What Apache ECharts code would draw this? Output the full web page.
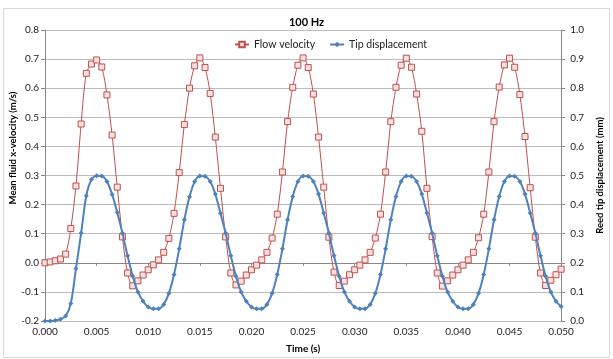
<!DOCTYPE html>
<html>
<head>
<meta charset="utf-8">
<script src="https://cdn.jsdelivr.net/npm/echarts@6/dist/echarts.min.js"></script>
<style>
  html, body { margin: 0; padding: 0; background: #fff; }
  #chart { width: 613px; height: 359px; }
</style>
</head>
<body>
<div id="chart"></div>
<script>
// sample step of the time series (s)
const timeStep = 0.0005

// mean fluid x-velocity (m/s), left axis
const flowVelocity = [
  0.000, 0.003, 0.007, 0.013, 0.030, 0.118, 0.264, 0.477, 0.651, 0.683,
  0.697, 0.673, 0.577, 0.439, 0.260, 0.089, -0.035, -0.079, -0.062, -0.042,
  -0.024, -0.007, 0.010, 0.036, 0.084, 0.170, 0.310, 0.475, 0.600, 0.677,
  0.704, 0.671, 0.582, 0.432, 0.256, 0.089, -0.035, -0.076, -0.063, -0.042,
  -0.024, -0.008, 0.010, 0.036, 0.085, 0.167, 0.312, 0.485, 0.603, 0.679,
  0.704, 0.671, 0.580, 0.432, 0.260, 0.088, -0.032, -0.078, -0.063, -0.041,
  -0.024, -0.008, 0.010, 0.036, 0.085, 0.167, 0.312, 0.485, 0.603, 0.679,
  0.703, 0.672, 0.580, 0.452, 0.256, 0.090, -0.035, -0.080, -0.062, -0.042,
  -0.024, -0.008, 0.010, 0.036, 0.086, 0.167, 0.312, 0.485, 0.604, 0.680,
  0.703, 0.672, 0.578, 0.434, 0.258, 0.088, -0.035, -0.078, -0.060, -0.041,
  -0.022
]

// reed tip displacement (mm), right axis
const tipDisplacement = [
  0.000, 0.000, 0.002, 0.006, 0.017, 0.060, 0.180, 0.302, 0.430, 0.486,
  0.499, 0.498, 0.479, 0.435, 0.373, 0.302, 0.224, 0.154, 0.100, 0.068,
  0.048, 0.042, 0.042, 0.057, 0.095, 0.160, 0.248, 0.348, 0.427, 0.479,
  0.498, 0.497, 0.479, 0.436, 0.370, 0.302, 0.224, 0.154, 0.100, 0.068,
  0.048, 0.042, 0.042, 0.057, 0.095, 0.160, 0.248, 0.348, 0.428, 0.479,
  0.498, 0.497, 0.479, 0.436, 0.371, 0.302, 0.224, 0.154, 0.100, 0.068,
  0.048, 0.042, 0.042, 0.057, 0.095, 0.160, 0.248, 0.348, 0.428, 0.479,
  0.498, 0.497, 0.479, 0.436, 0.371, 0.302, 0.224, 0.154, 0.100, 0.068,
  0.048, 0.042, 0.042, 0.057, 0.095, 0.160, 0.248, 0.348, 0.428, 0.479,
  0.498, 0.497, 0.479, 0.436, 0.371, 0.302, 0.224, 0.154, 0.100, 0.068,
  0.050
]

const seriesNames = ['Flow velocity', 'Tip displacement']

const font = 'Lato, "Open Sans", sans-serif'
const red = '#C0504D'
const blue = '#4F81BD'

const chart = echarts.init(document.getElementById('chart'))

function toPairs(values) {
  return values.map((v, i) => [+(i * timeStep).toFixed(4), v])
}

const option = {
  animation: false,
  textStyle: { fontFamily: font },
  graphic: [{
    type: 'rect',
    shape: { x: 3.5, y: 8.5, width: 606, height: 349 },
    style: { fill: 'none', stroke: '#d9d9d9', lineWidth: 1 },
    silent: true
  }, {
    // left axis title sits above the axis middle, as in the Excel original
    type: 'text',
    x: 13,
    y: 148,
    rotation: Math.PI / 2,
    style: {
      text: 'Mean fluid x-velocity (m/s)',
      fontFamily: font,
      fontSize: 9.5,
      fontWeight: 'bold',
      fill: '#000',
      align: 'center',
      verticalAlign: 'middle'
    },
    silent: true
  }],
  title: {
    text: '100 Hz',
    left: 'center',
    top: 12,
    textStyle: { fontFamily: font, fontSize: 11, fontWeight: 'bold', color: '#000' }
  },
  legend: {
    top: 34,
    left: 229,
    itemGap: 14,
    itemWidth: 14,
    itemHeight: 7,
    textStyle: { fontFamily: font, fontSize: 10.5, color: '#222' },
    data: seriesNames
  },
  grid: { left: 45, right: 40, top: 30, bottom: 38 },
  xAxis: {
    type: 'value',
    min: 0,
    max: 0.05,
    interval: 0.005,
    name: 'Time (s)',
    nameLocation: 'middle',
    nameGap: 23,
    nameTextStyle: { fontFamily: font, fontSize: 10, fontWeight: 'bold', color: '#000' },
    axisLine: { show: true, lineStyle: { color: '#888' } },
    axisTick: { show: true, length: 3, lineStyle: { color: '#888' } },
    axisLabel: {
      fontFamily: font, fontSize: 10, color: '#222', margin: 6,
      formatter: v => v.toFixed(3)
    },
    splitLine: { show: false }
  },
  yAxis: [{
    type: 'value',
    min: -0.2,
    max: 0.8,
    interval: 0.1,
    axisLine: { show: true, lineStyle: { color: '#888' } },
    axisTick: { show: true, length: 4, lineStyle: { color: '#888' } },
    axisLabel: {
      fontFamily: font, fontSize: 10, color: '#222', margin: 6,
      formatter: v => v.toFixed(1)
    },
    splitLine: { show: true, lineStyle: { color: '#bcbcbc' } }
  }, {
    type: 'value',
    min: 0,
    max: 1,
    interval: 0.1,
    name: 'Reed tip displacement (mm)',
    nameLocation: 'middle',
    nameGap: 32,
    nameRotate: 90,
    nameTextStyle: { fontFamily: font, fontSize: 9.5, fontWeight: 'bold', color: '#000' },
    axisLine: { show: true, lineStyle: { color: '#888' } },
    axisTick: { show: true, length: 4, lineStyle: { color: '#888' } },
    axisLabel: {
      fontFamily: font, fontSize: 10, color: '#222', margin: 9,
      formatter: v => v.toFixed(1)
    },
    splitLine: { show: false }
  }],
  series: [{
    name: seriesNames[0],
    type: 'line',
    yAxisIndex: 0,
    smooth: 0.3,
    data: toPairs(flowVelocity),
    symbol: 'rect',
    symbolSize: 6,
    lineStyle: { color: red, width: 1 },
    itemStyle: { color: '#f6e2e1', borderColor: red, borderWidth: 1 },
    z: 2
  }, {
    name: seriesNames[1],
    type: 'line',
    yAxisIndex: 1,
    smooth: 0.3,
    data: toPairs(tipDisplacement),
    symbol: 'diamond',
    symbolSize: 5,
    lineStyle: { color: blue, width: 2 },
    itemStyle: { color: blue, borderWidth: 0 },
    z: 3
  }]
}

chart.setOption(option)
</script>
</body>
</html>
